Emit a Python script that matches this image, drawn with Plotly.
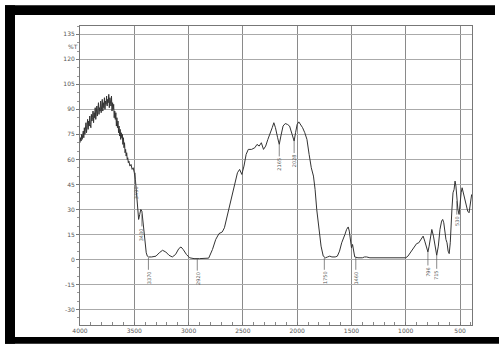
import plotly.graph_objects as go

# ---- data ----
wavenumber = [
    4000, 3995, 3990, 3985, 3980, 3975, 3970, 3965, 3960, 3955, 3950, 3945, 3940, 3935,
    3930, 3925, 3920, 3915, 3910, 3905, 3900, 3895, 3890, 3885, 3880, 3875, 3870, 3865,
    3860, 3855, 3850, 3845, 3840, 3835, 3830, 3825, 3820, 3815, 3810, 3805, 3800, 3795,
    3790, 3785, 3780, 3775, 3770, 3765, 3760, 3755, 3750, 3745, 3740, 3735, 3730, 3725,
    3720, 3715, 3710, 3705, 3700, 3695, 3690, 3685, 3680, 3675, 3670, 3665, 3660, 3655,
    3650, 3645, 3640, 3635, 3630, 3625, 3620, 3615, 3610, 3605, 3600, 3595, 3590, 3585,
    3580, 3575, 3570, 3565, 3560, 3555, 3550, 3540, 3530, 3520, 3510, 3500, 3490, 3480,
    3470, 3460, 3450, 3440, 3430, 3420, 3410, 3400, 3390, 3380, 3370, 3340, 3300, 3270,
    3240, 3210, 3180, 3150, 3120, 3090, 3070, 3050, 3020, 2990, 2950, 2900, 2850, 2815,
    2780, 2750, 2720, 2690, 2670, 2640, 2600, 2570, 2550, 2530, 2510, 2490, 2470, 2450,
    2420, 2390, 2370, 2350, 2330, 2310, 2290, 2270, 2250, 2230, 2215, 2200, 2180, 2165,
    2150, 2130, 2110, 2090, 2070, 2055, 2040, 2028, 2015, 2000, 1985, 1970, 1950, 1930,
    1910, 1890, 1870, 1850, 1835, 1820, 1800, 1780, 1760, 1740, 1720, 1700, 1680, 1650,
    1630, 1610, 1590, 1575, 1560, 1545, 1530, 1520, 1510, 1500, 1490, 1480, 1470, 1440,
    1400, 1380, 1360, 1330, 1000, 980, 950, 920, 900, 880, 860, 840, 825, 810, 796, 785,
    770, 760, 745, 730, 715, 700, 685, 670, 660, 650, 640, 630, 620, 610, 600, 590, 575,
    565, 555, 546, 538, 530, 520, 509, 500, 490, 481, 470, 460, 450, 440, 430, 417, 405,
    393,
]
transmittance = [
    70, 73, 71, 75, 72, 74, 77, 73, 79, 75, 78, 82, 76, 80,
    84, 78, 83, 80, 86, 81, 79, 87, 83, 85, 89, 82, 88, 85,
    91, 84, 87, 92, 86, 90, 94, 87, 91, 89, 95, 88, 93, 96,
    89, 94, 91, 97, 90, 95, 93, 98, 92, 96, 94, 99, 91, 97,
    95, 92, 98, 89, 94, 90, 93, 85, 89, 84, 88, 80, 85, 79,
    83, 76, 80, 74, 78, 72, 76, 73, 75, 69, 73, 67, 70, 64,
    66, 62, 64, 60, 61, 58, 59, 56, 57, 54, 55, 52, 48, 40,
    30, 24, 27, 30, 29, 22, 14, 8, 4, 2, 1.5, 1.5, 2, 4,
    5.5, 4.5, 2.5, 1.5, 3, 6.5, 7.5, 6, 3, 1, 0.5, 0.5, 0.5, 0.8,
    6, 12, 15.5, 16.5, 19, 27, 38, 47, 52, 54, 51, 56, 63, 66,
    66, 67, 69, 68, 70, 66, 68, 72, 75, 79, 82, 79, 73, 69,
    74, 80, 81.5, 81, 80, 77, 73, 71, 76, 81, 82.5, 81, 79, 76,
    72, 63, 55, 50, 42, 30, 18, 8, 2, 1, 1.5, 2, 1.5, 1.5,
    2, 5, 10, 12, 15, 18, 19.5, 17, 12, 7, 9, 4, 1.5, 1,
    1, 1.5, 1.5, 1, 1, 2, 5, 8, 9.5, 10, 12, 14, 11, 7, 4.5, 8,
    14, 18, 14, 8, 2.5, 8, 18, 23, 24, 22, 16, 12, 10, 5, 3.5, 10, 30,
    40, 42, 47, 44, 35, 30, 27, 35, 40, 43, 40, 36, 33, 30, 29, 28, 35,
    39,
]

peak_wn = [3490, 3430, 3370, 2920, 2165, 2028, 1750, 1460, 796, 715, 530]
peak_val = [52, 27, 1, 0.5, 69, 71, 1, 1, 4.5, 2.5, 35]
peak_text = ["3490", "3430", "3370", "2920", "2165", "2028", "1750", "1460", "796", "715", "530"]

x_ticks = [4000, 3500, 3000, 2500, 2000, 1500, 1000, 500]
y_ticks = [135, 120, 105, 90, 75, 60, 45, 30, 15, 0, -15, -30]

# ---- geometry ----
W, H = 499, 346
L, R, T, B = 80, 472, 26, 327


def px(xp):
    return (xp - L) / (R - L)


def py(yp):
    return (B - yp) / (B - T)


fig = go.Figure()
fig.add_trace(go.Scatter(
    x=wavenumber, y=transmittance, mode="lines",
    line=dict(color="#333333", width=1), hoverinfo="skip", showlegend=False,
))

annotations = []
for wn, v, t in zip(peak_wn, peak_val, peak_text):
    annotations.append(dict(
        x=wn, y=v, xref="x", yref="y", text=t, textangle=-90,
        showarrow=True, arrowhead=0, arrowwidth=0.7, arrowcolor="#555555",
        ax=0, ay=20, font=dict(size=5, color="#555555", family="DejaVu Sans"),
    ))
annotations.append(dict(
    x=px(66), y=127.5, xref="paper", yref="y", text="%T", showarrow=False,
    font=dict(size=6, color="#555555", family="DejaVu Sans"),
))

shapes = [
    dict(type="rect", xref="paper", yref="paper", x0=px(5), x1=px(495), y0=py(5), y1=py(15),
         fillcolor="black", line=dict(width=0), layer="above"),
    dict(type="rect", xref="paper", yref="paper", x0=px(5), x1=px(15), y0=py(5), y1=py(346),
         fillcolor="black", line=dict(width=0), layer="above"),
    dict(type="rect", xref="paper", yref="paper", x0=px(5), x1=px(499), y0=py(339), y1=py(346),
         fillcolor="black", line=dict(width=0), layer="above"),
]

fig.update_layout(
    width=W, height=H,
    margin=dict(l=L, r=W - R, t=T, b=H - B),
    paper_bgcolor="white", plot_bgcolor="white",
    annotations=annotations, shapes=shapes,
    font=dict(family="DejaVu Sans", size=6, color="#555555"),
)
fig.update_xaxes(
    range=[4000, 390], tickvals=x_ticks, ticktext=[str(v) for v in x_ticks],
    showgrid=True, gridcolor="#8a8a8a", gridwidth=1,
    showline=True, linecolor="#777777", linewidth=1, mirror=True,
    ticks="inside", ticklen=3, tickcolor="#777777",
    minor=dict(dtick=100, tick0=0, ticks="inside", ticklen=3, tickcolor="#888888", showgrid=False),
    tickfont=dict(size=6, color="#555555"), zeroline=False,
)
fig.update_yaxes(
    range=[-39.3, 140], tickvals=y_ticks, ticktext=[str(v) for v in y_ticks],
    showgrid=True, gridcolor="#aaaaaa", gridwidth=1,
    showline=True, linecolor="#777777", linewidth=1, mirror=True,
    ticks="outside", ticklen=3, tickcolor="#777777",
    minor=dict(dtick=5, tick0=0, ticks="outside", ticklen=2, tickcolor="#999999", showgrid=False),
    tickfont=dict(size=6, color="#555555"), zeroline=False,
)

fig.write_html(
    "out.html",
    config={"displayModeBar": False, "staticPlot": True},
    post_script="document.body.style.margin='0px';document.body.style.overflow='hidden';",
)
